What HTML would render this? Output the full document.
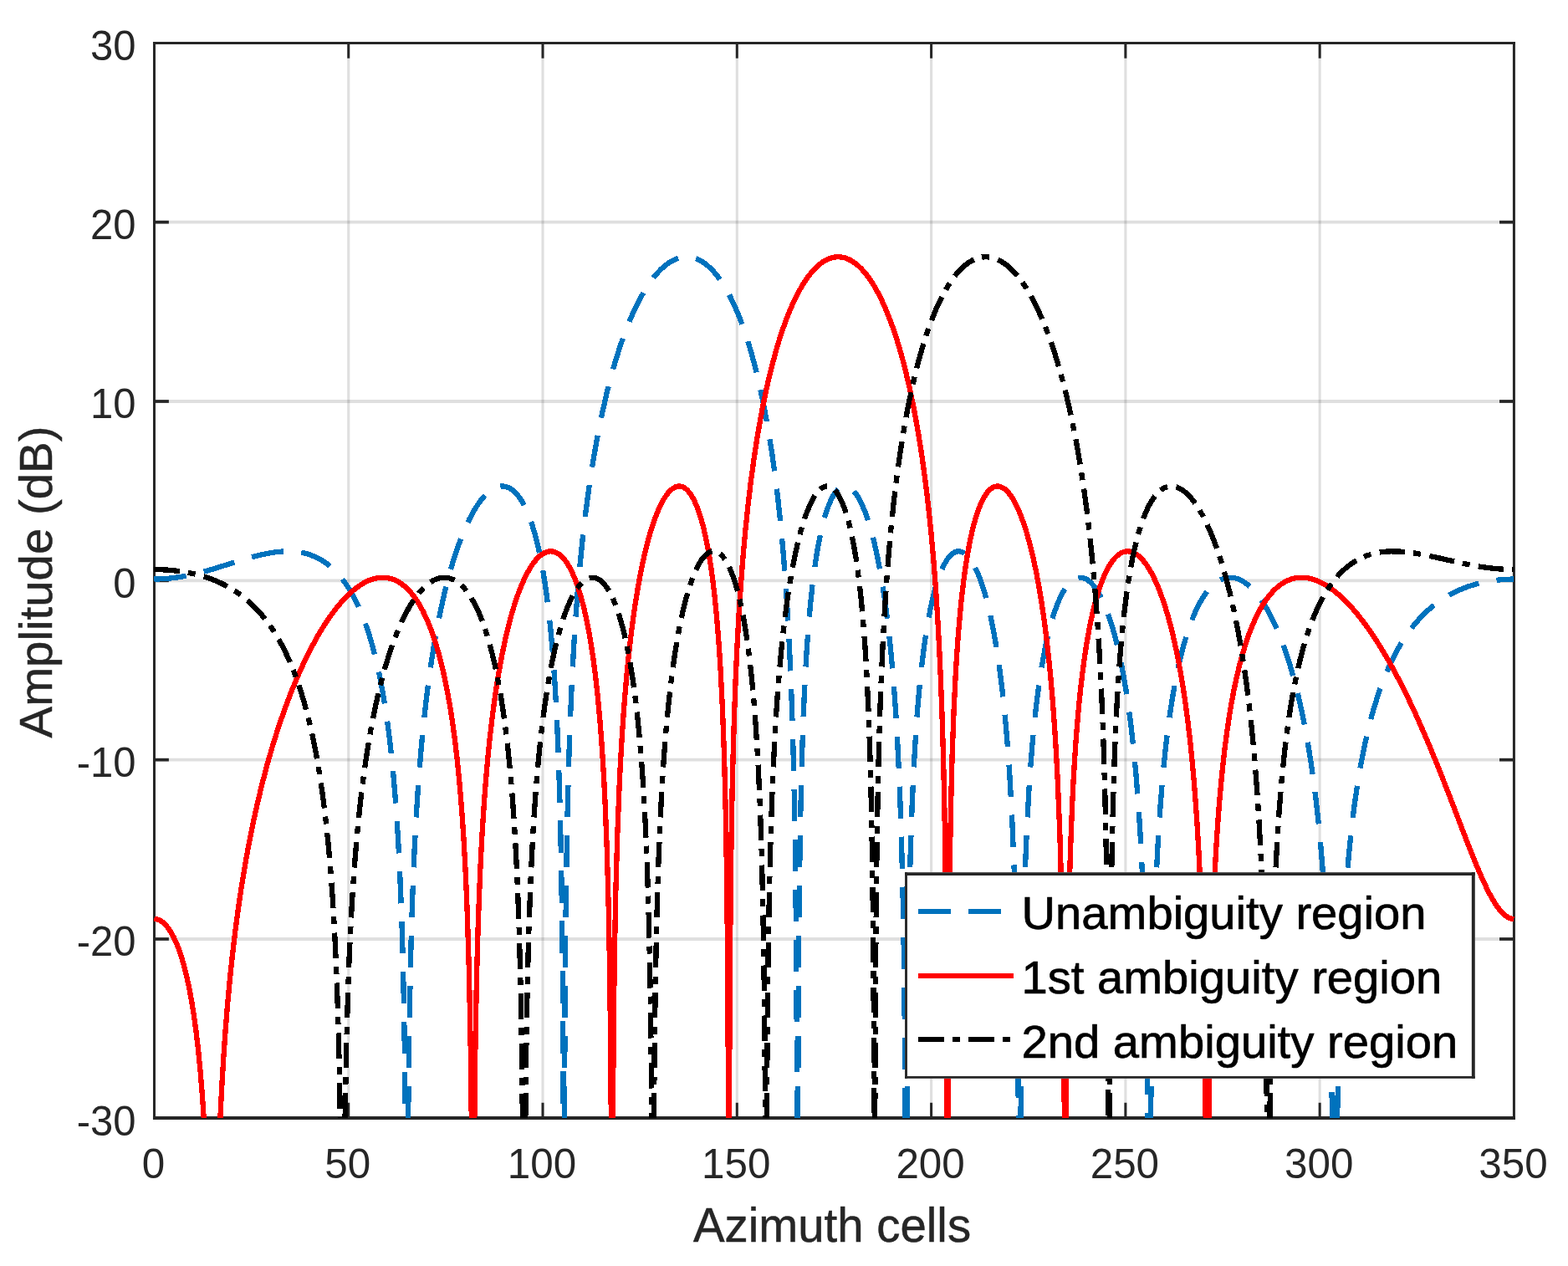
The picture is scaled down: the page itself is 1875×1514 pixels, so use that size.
<!DOCTYPE html>
<html><head><meta charset="utf-8"><title>Amplitude vs Azimuth cells</title><style>html,body{margin:0;padding:0;background:#fff;overflow:hidden}svg{display:block}</style></head><body>
<svg width="1875" height="1514" viewBox="0 0 1875 1514">
<rect x="0" y="0" width="1875" height="1514" fill="#fff"/>
<g stroke="#262626" stroke-opacity="0.15" stroke-width="3.1"><line x1="416.74" y1="51.34" x2="416.74" y2="1337.32"/><line x1="649.02" y1="51.34" x2="649.02" y2="1337.32"/><line x1="881.30" y1="51.34" x2="881.30" y2="1337.32"/><line x1="1113.59" y1="51.34" x2="1113.59" y2="1337.32"/><line x1="1345.88" y1="51.34" x2="1345.88" y2="1337.32"/><line x1="1578.16" y1="51.34" x2="1578.16" y2="1337.32"/></g>
<g stroke="#262626" stroke-opacity="0.15" stroke-width="3.9"><line x1="184.45" y1="1122.99" x2="1810.44" y2="1122.99"/><line x1="184.45" y1="908.66" x2="1810.44" y2="908.66"/><line x1="184.45" y1="694.33" x2="1810.44" y2="694.33"/><line x1="184.45" y1="480.00" x2="1810.44" y2="480.00"/><line x1="184.45" y1="265.67" x2="1810.44" y2="265.67"/></g>
<g stroke="#262626" stroke-width="3.0"><line x1="416.74" y1="1336.95" x2="416.74" y2="1318.75"/><line x1="416.74" y1="51.50" x2="416.74" y2="69.70"/><line x1="649.02" y1="1336.95" x2="649.02" y2="1318.75"/><line x1="649.02" y1="51.50" x2="649.02" y2="69.70"/><line x1="881.30" y1="1336.95" x2="881.30" y2="1318.75"/><line x1="881.30" y1="51.50" x2="881.30" y2="69.70"/><line x1="1113.59" y1="1336.95" x2="1113.59" y2="1318.75"/><line x1="1113.59" y1="51.50" x2="1113.59" y2="69.70"/><line x1="1345.88" y1="1336.95" x2="1345.88" y2="1318.75"/><line x1="1345.88" y1="51.50" x2="1345.88" y2="69.70"/><line x1="1578.16" y1="1336.95" x2="1578.16" y2="1318.75"/><line x1="1578.16" y1="51.50" x2="1578.16" y2="69.70"/></g>
<g stroke="#262626" stroke-width="3.7"><line x1="184.48" y1="1122.99" x2="201.88" y2="1122.99"/><line x1="1810.43" y1="1122.99" x2="1793.03" y2="1122.99"/><line x1="184.48" y1="908.66" x2="201.88" y2="908.66"/><line x1="1810.43" y1="908.66" x2="1793.03" y2="908.66"/><line x1="184.48" y1="694.33" x2="201.88" y2="694.33"/><line x1="1810.43" y1="694.33" x2="1793.03" y2="694.33"/><line x1="184.48" y1="480.00" x2="201.88" y2="480.00"/><line x1="1810.43" y1="480.00" x2="1793.03" y2="480.00"/><line x1="184.48" y1="265.67" x2="201.88" y2="265.67"/><line x1="1810.43" y1="265.67" x2="1793.03" y2="265.67"/></g>
<g stroke="#262626"><line x1="182.98" y1="51.50" x2="1811.93" y2="51.50" stroke-width="2.9"/><line x1="182.98" y1="1336.95" x2="1811.93" y2="1336.95" stroke-width="4.0"/><line x1="184.48" y1="50.05" x2="184.48" y2="1338.95" stroke-width="3.0"/><line x1="1810.43" y1="50.05" x2="1810.43" y2="1338.95" stroke-width="3.0"/></g>
<g font-family="Liberation Sans, Arial, Helvetica, sans-serif" font-size="49.4" fill="#262626"><text transform="translate(183.45,1409.00) scale(1,1.023)" text-anchor="middle">0</text><text transform="translate(415.74,1409.00) scale(1,1.023)" text-anchor="middle">50</text><text transform="translate(648.02,1409.00) scale(1,1.023)" text-anchor="middle">100</text><text transform="translate(880.30,1409.00) scale(1,1.023)" text-anchor="middle">150</text><text transform="translate(1112.59,1409.00) scale(1,1.023)" text-anchor="middle">200</text><text transform="translate(1344.88,1409.00) scale(1,1.023)" text-anchor="middle">250</text><text transform="translate(1577.16,1409.00) scale(1,1.023)" text-anchor="middle">300</text><text transform="translate(1809.44,1409.00) scale(1,1.023)" text-anchor="middle">350</text></g>
<g font-family="Liberation Sans, Arial, Helvetica, sans-serif" font-size="49.0" fill="#262626"><text transform="translate(162.60,1357.62) scale(1,1.037)" text-anchor="end">-30</text><text transform="translate(162.60,1143.29) scale(1,1.037)" text-anchor="end">-20</text><text transform="translate(162.60,928.96) scale(1,1.037)" text-anchor="end">-10</text><text transform="translate(162.60,714.63) scale(1,1.037)" text-anchor="end">0</text><text transform="translate(162.60,500.30) scale(1,1.037)" text-anchor="end">10</text><text transform="translate(162.60,285.97) scale(1,1.037)" text-anchor="end">20</text><text transform="translate(162.60,71.64) scale(1,1.037)" text-anchor="end">30</text></g>
<text transform="translate(995.00,1485.00) scale(1,1.029)" text-anchor="middle" font-family="Liberation Sans, Arial, Helvetica, sans-serif" font-size="56.4" fill="#262626" stroke="#262626" stroke-width="0.5">Azimuth cells</text>
<text transform="translate(62.00,696.00) rotate(-90) scale(1,1.0)" text-anchor="middle" font-family="Liberation Sans, Arial, Helvetica, sans-serif" font-size="56.4" fill="#262626" stroke="#262626" stroke-width="0.5">Amplitude (dB)</text>
<g fill="none" stroke-width="6.3" stroke-linejoin="round" shape-rendering="crispEdges"><path d="M184.45,692.57 L195.51,692.23 L206.70,691.22 L218.18,689.52 L230.21,687.09 L240.62,684.53 L252.00,681.35 L287.35,670.32 L299.11,666.84 L310.12,663.95 L319.97,661.81 L329.77,660.26 L338.92,659.44 L347.51,659.36 L355.69,660.01 L361.40,660.95 L366.89,662.28 L372.18,663.99 L377.34,666.11 L382.31,668.61 L387.14,671.53 L391.83,674.86 L396.39,678.60 L400.80,682.76 L405.07,687.34 L409.21,692.34 L413.20,697.75 L417.06,703.57 L420.82,709.87 L424.45,716.60 L427.93,723.73 L431.65,732.14 L435.18,741.01 L438.57,750.42 L441.82,760.40 L444.89,770.77 L447.86,781.86 L450.70,793.51 L453.39,805.72 L455.94,818.50 L458.36,831.82 L460.64,845.67 L462.82,860.36 L464.86,875.58 L466.82,891.69 L470.30,925.40 L473.32,961.69 L475.92,1000.90 L478.15,1043.57 L480.06,1090.68 L481.64,1142.22 L482.94,1199.64 L483.96,1262.40 L484.80,1337.32" stroke="#0072BD" stroke-dasharray="38.5 21.5"/><path d="M488.14,1337.32 L489.35,1235.10 L490.97,1150.63 L492.00,1111.94 L493.20,1074.45 L494.55,1039.78 L496.04,1007.57 L497.71,976.76 L499.61,946.72 L501.66,918.91 L503.93,891.96 L506.44,865.99 L509.14,841.47 L512.06,817.92 L515.27,795.03 L518.99,771.54 L522.98,749.21 L527.26,728.03 L531.81,708.01 L536.64,689.16 L541.70,671.66 L547.00,655.48 L552.53,640.64 L558.29,627.18 L561.22,621.07 L564.19,615.34 L567.21,610.00 L570.23,605.13 L573.25,600.72 L576.31,596.70 L579.33,593.20 L582.40,590.10 L585.47,587.47 L588.49,585.34 L591.51,583.66 L594.53,582.46 L597.50,581.74 L600.43,581.50 L602.93,581.67 L605.40,582.20 L607.81,583.07 L610.23,584.30 L612.60,585.88 L614.92,587.81 L617.20,590.07 L619.47,592.72 L621.66,595.66 L623.79,598.93 L625.93,602.62 L627.97,606.56 L631.97,615.56 L635.73,625.79 L639.31,637.39 L642.66,650.19 L645.81,664.35 L648.74,679.65 L651.48,696.31 L654.04,714.37 L656.36,733.43 L658.54,754.27 L660.45,775.40 L662.17,797.53 L663.75,821.17 L665.19,846.38 L666.49,873.14 L667.65,901.38 L669.65,964.76 L671.18,1036.41 L672.34,1120.23 L673.18,1220.11 L673.72,1337.32" stroke="#0072BD" stroke-dasharray="38.5 21.5"/><path d="M674.95,1337.32 L675.78,1177.00 L676.38,1111.06 L677.08,1055.60 L678.01,1000.14 L679.08,951.31 L680.38,904.65 L681.87,861.99 L683.63,820.80 L685.67,781.57 L687.95,745.11 L690.55,709.92 L693.43,676.68 L696.64,644.82 L700.17,614.37 L704.03,585.31 L708.72,554.44 L713.87,524.91 L719.45,497.01 L725.44,470.72 L728.60,458.16 L731.85,446.05 L735.20,434.38 L738.68,423.02 L742.21,412.25 L745.84,401.94 L749.55,392.07 L753.36,382.67 L757.26,373.73 L761.21,365.36 L765.21,357.55 L769.30,350.21 L773.43,343.44 L777.61,337.23 L781.84,331.58 L786.11,326.50 L790.44,321.98 L794.76,318.08 L799.08,314.78 L803.44,312.06 L807.81,309.94 L812.18,308.43 L816.54,307.52 L820.91,307.21 L825.09,307.49 L829.27,308.34 L833.41,309.74 L837.54,311.71 L841.63,314.22 L845.67,317.29 L849.67,320.89 L853.66,325.08 L857.61,329.82 L861.47,335.05 L865.28,340.82 L869.04,347.13 L872.71,353.91 L876.33,361.23 L879.91,369.11 L883.40,377.44 L886.79,386.22 L890.13,395.56 L893.38,405.36 L896.54,415.59 L899.61,426.25 L902.58,437.34 L908.30,461.01 L913.64,486.41 L918.56,513.28 L923.12,541.85 L927.30,572.13 L930.78,601.21 L933.94,631.54 L936.82,663.56 L939.38,696.69 L941.70,732.14 L943.74,769.25 L945.51,807.75 L947.09,849.72 L948.44,894.08 L949.55,940.19 L950.53,991.95 L951.32,1047.12 L952.48,1176.41 L953.16,1337.32" stroke="#0072BD" stroke-dasharray="38.5 21.5"/><path d="M954.16,1337.32 L954.61,1217.32 L955.26,1121.89 L956.15,1041.75 L957.36,969.91 L958.89,907.62 L960.84,851.56 L963.16,803.04 L964.51,780.54 L965.95,759.72 L967.62,738.80 L969.48,718.79 L971.43,700.64 L973.57,683.48 L975.84,667.70 L978.26,653.27 L980.86,639.95 L983.60,627.99 L986.53,617.22 L989.60,607.83 L992.80,599.83 L996.10,593.31 L997.82,590.53 L999.54,588.16 L1001.30,586.12 L1003.07,584.47 L1004.88,583.16 L1006.69,582.24 L1008.50,581.69 L1010.36,581.50 L1012.41,581.72 L1014.45,582.38 L1016.49,583.48 L1018.54,585.02 L1020.58,586.99 L1022.63,589.40 L1024.67,592.25 L1026.72,595.54 L1028.71,599.20 L1030.71,603.30 L1034.66,612.77 L1038.47,623.71 L1042.19,636.28 L1045.72,650.13 L1049.06,665.21 L1052.27,681.71 L1055.33,699.68 L1058.17,718.56 L1060.86,738.94 L1063.37,760.51 L1065.69,783.25 L1067.69,805.49 L1069.55,828.96 L1071.27,853.72 L1072.85,879.81 L1075.54,934.90 L1077.77,996.97 L1079.49,1064.20 L1080.84,1141.19 L1081.86,1232.11 L1082.56,1337.32" stroke="#0072BD" stroke-dasharray="38.5 21.5"/><path d="M1084.43,1337.32 L1085.07,1241.53 L1085.99,1155.61 L1087.20,1083.04 L1088.69,1021.36 L1090.59,964.70 L1092.92,913.98 L1095.70,868.34 L1097.28,847.29 L1098.96,827.75 L1100.86,808.26 L1102.95,789.58 L1105.18,772.19 L1107.55,756.05 L1110.06,741.15 L1112.75,727.24 L1115.54,714.78 L1118.51,703.35 L1121.63,693.17 L1124.83,684.37 L1128.18,676.81 L1131.66,670.53 L1133.43,667.92 L1135.24,665.62 L1137.05,663.70 L1138.86,662.13 L1140.72,660.89 L1142.58,660.01 L1144.44,659.49 L1146.34,659.31 L1148.29,659.50 L1150.29,660.08 L1152.29,661.06 L1154.29,662.42 L1156.28,664.18 L1158.24,666.28 L1160.23,668.83 L1162.18,671.70 L1166.04,678.57 L1169.85,686.96 L1173.52,696.67 L1177.10,707.81 L1180.53,720.24 L1183.79,733.75 L1186.90,748.51 L1189.87,764.53 L1192.71,781.86 L1195.35,800.22 L1197.82,819.55 L1200.14,840.22 L1202.18,860.83 L1204.04,882.00 L1205.76,904.17 L1207.39,928.02 L1210.22,978.98 L1212.54,1034.75 L1214.40,1095.76 L1215.89,1164.79 L1217.05,1244.96 L1217.90,1337.32" stroke="#0072BD" stroke-dasharray="38.5 21.5"/><path d="M1220.54,1337.32 L1221.37,1247.22 L1222.49,1169.99 L1223.97,1100.83 L1225.83,1040.28 L1228.11,986.39 L1230.89,937.26 L1232.47,914.67 L1234.19,893.17 L1236.05,872.78 L1238.00,853.92 L1240.23,834.95 L1242.65,816.93 L1245.20,800.21 L1247.94,784.47 L1250.82,770.00 L1253.89,756.56 L1257.10,744.37 L1260.44,733.39 L1263.97,723.51 L1267.64,714.87 L1271.40,707.57 L1275.31,701.52 L1277.30,698.98 L1279.30,696.79 L1281.35,694.91 L1283.39,693.39 L1285.43,692.21 L1287.53,691.35 L1289.62,690.84 L1291.75,690.66 L1293.94,690.84 L1296.17,691.40 L1298.40,692.34 L1300.58,693.62 L1302.81,695.31 L1304.99,697.32 L1307.18,699.71 L1309.36,702.47 L1311.54,705.62 L1313.68,709.08 L1317.91,717.07 L1322.00,726.34 L1325.99,736.99 L1329.80,748.77 L1333.47,761.78 L1337.00,776.07 L1340.35,791.44 L1343.51,807.87 L1346.48,825.35 L1349.27,843.86 L1351.91,863.75 L1354.24,883.46 L1356.37,903.91 L1358.37,925.50 L1360.18,947.69 L1361.86,970.95 L1363.44,996.06 L1364.88,1022.43 L1366.18,1050.01 L1368.41,1109.67 L1370.17,1175.85 L1371.57,1252.32 L1372.57,1337.32" stroke="#0072BD" stroke-dasharray="38.5 21.5"/><path d="M1376.06,1337.32 L1377.19,1245.10 L1378.67,1167.79 L1380.62,1099.43 L1381.79,1068.32 L1383.09,1038.85 L1384.53,1011.05 L1386.15,984.15 L1387.92,958.99 L1389.87,934.89 L1391.96,912.41 L1394.24,891.00 L1396.70,870.69 L1399.35,851.48 L1402.32,832.54 L1405.53,814.65 L1408.92,798.06 L1412.54,782.54 L1416.35,768.27 L1420.39,755.09 L1424.62,743.14 L1429.08,732.30 L1433.73,722.69 L1438.60,714.24 L1441.11,710.48 L1443.62,707.10 L1446.22,703.97 L1448.82,701.21 L1451.47,698.75 L1454.17,696.61 L1456.91,694.79 L1459.65,693.31 L1462.44,692.16 L1465.27,691.32 L1468.10,690.83 L1470.98,690.66 L1474.10,690.85 L1477.26,691.44 L1480.41,692.42 L1483.62,693.80 L1486.83,695.57 L1490.03,697.73 L1493.24,700.29 L1496.40,703.18 L1499.55,706.46 L1502.71,710.13 L1505.87,714.20 L1508.99,718.59 L1512.05,723.32 L1515.12,728.45 L1521.11,739.68 L1526.87,752.10 L1532.45,765.78 L1537.84,780.76 L1542.95,796.77 L1547.82,813.95 L1552.42,832.13 L1556.74,851.29 L1560.83,871.67 L1564.41,891.68 L1567.71,912.34 L1570.77,933.88 L1573.65,956.69 L1576.30,980.41 L1578.72,1005.01 L1580.95,1030.94 L1582.99,1058.28 L1584.80,1086.30 L1586.48,1116.44 L1587.96,1147.93 L1589.26,1180.56 L1590.47,1216.90 L1591.49,1254.25 L1593.15,1337.32" stroke="#0072BD" stroke-dasharray="38.5 21.5"/><path d="M1599.14,1337.32 L1600.09,1286.52 L1601.25,1239.01 L1602.64,1194.67 L1604.22,1154.81 L1606.08,1117.03 L1608.17,1082.33 L1610.54,1049.85 L1613.19,1019.55 L1616.16,990.94 L1619.51,963.71 L1623.18,938.30 L1627.17,914.63 L1631.59,892.16 L1636.37,871.17 L1641.57,851.47 L1647.15,833.20 L1650.17,824.32 L1653.33,815.69 L1656.58,807.45 L1659.92,799.57 L1663.41,791.94 L1667.03,784.59 L1670.75,777.60 L1674.60,770.88 L1678.60,764.43 L1682.69,758.33 L1686.92,752.50 L1691.28,746.96 L1695.79,741.68 L1700.39,736.74 L1705.17,732.02 L1710.10,727.59 L1715.21,723.39 L1720.46,719.47 L1725.85,715.84 L1731.42,712.45 L1737.14,709.33 L1743.04,706.47 L1749.08,703.89 L1755.30,701.55 L1761.71,699.48 L1768.31,697.66 L1775.04,696.12 L1781.92,694.85 L1788.94,693.85 L1796.04,693.14 L1803.24,692.71 L1810.44,692.57" stroke="#0072BD" stroke-dasharray="38.5 21.5"/><path d="M184.45,1098.98 L187.05,1099.24 L189.65,1100.02 L192.25,1101.32 L194.81,1103.12 L197.32,1105.41 L199.83,1108.23 L202.29,1111.54 L204.71,1115.34 L207.07,1119.62 L209.35,1124.29 L211.58,1129.44 L213.76,1135.07 L217.95,1147.66 L221.89,1162.12 L225.47,1177.83 L228.82,1195.31 L231.93,1214.63 L234.76,1235.49 L237.36,1258.22 L239.69,1282.33 L241.82,1308.79 L243.74,1337.32" stroke="#FF0000"/><path d="M263.32,1337.32 L265.15,1301.08 L267.19,1266.68 L269.47,1233.87 L272.02,1202.04 L274.81,1171.77 L277.88,1142.50 L281.22,1114.22 L284.89,1086.59 L288.89,1059.67 L293.16,1033.76 L297.76,1008.55 L302.73,983.82 L307.98,960.03 L313.60,936.77 L319.55,914.25 L325.82,892.47 L332.79,870.29 L340.08,849.08 L347.70,828.81 L355.60,809.63 L363.77,791.55 L372.14,774.76 L380.68,759.27 L385.00,752.06 L389.33,745.24 L393.69,738.76 L398.06,732.68 L402.43,726.99 L406.79,721.70 L411.16,716.80 L415.53,712.30 L419.89,708.20 L424.21,704.55 L428.54,701.30 L432.81,698.48 L437.04,696.11 L441.26,694.14 L445.40,692.63 L449.53,691.53 L453.62,690.88 L457.62,690.66 L460.96,690.81 L464.26,691.28 L467.51,692.05 L470.76,693.15 L473.97,694.56 L477.08,696.27 L480.15,698.28 L483.17,700.60 L486.14,703.23 L489.07,706.18 L491.95,709.45 L494.74,712.97 L497.52,716.87 L500.22,721.03 L505.42,730.22 L510.39,740.61 L515.08,752.08 L519.59,764.87 L523.82,778.73 L527.81,793.80 L531.58,810.09 L535.11,827.62 L538.36,846.13 L541.29,865.18 L543.98,885.22 L546.49,906.58 L548.77,928.82 L550.86,952.33 L552.81,977.74 L554.57,1004.53 L556.15,1032.62 L557.59,1062.85 L558.85,1094.15 L560.94,1162.68 L562.56,1242.70 L563.76,1337.32" stroke="#FF0000"/><path d="M567.35,1337.32 L568.46,1246.50 L569.95,1169.09 L571.90,1100.10 L574.32,1039.44 L575.76,1010.80 L577.34,983.71 L579.10,957.45 L581.01,932.73 L583.10,908.93 L585.33,886.55 L587.74,865.08 L590.34,844.55 L593.32,823.74 L596.52,803.90 L599.91,785.30 L603.54,767.69 L607.35,751.32 L611.34,736.14 L615.52,722.18 L619.89,709.43 L624.44,697.93 L629.09,687.92 L633.88,679.28 L636.29,675.54 L638.75,672.13 L641.22,669.13 L643.68,666.54 L646.14,664.34 L648.60,662.54 L651.06,661.13 L653.53,660.12 L655.99,659.51 L658.45,659.31 L660.68,659.48 L662.91,659.99 L665.14,660.86 L667.32,662.06 L669.51,663.62 L671.64,665.50 L673.74,667.70 L675.83,670.26 L677.87,673.13 L679.87,676.31 L683.82,683.75 L687.63,692.51 L691.25,702.47 L694.69,713.61 L697.94,725.88 L701.05,739.49 L703.98,754.23 L706.72,770.10 L709.32,787.38 L711.74,805.79 L713.97,825.30 L715.96,845.34 L717.78,866.13 L719.45,888.14 L720.98,911.35 L722.38,935.72 L723.68,962.14 L725.86,1018.29 L727.63,1081.97 L729.02,1155.46 L730.04,1238.03 L730.79,1337.32" stroke="#FF0000"/><path d="M732.91,1337.32 L733.71,1231.34 L734.83,1143.21 L736.31,1066.97 L738.26,998.50 L740.73,937.00 L742.12,909.35 L743.70,882.21 L745.42,856.52 L747.32,831.64 L749.37,808.19 L751.55,786.07 L754.11,763.24 L756.89,741.34 L759.82,721.07 L762.98,701.76 L766.32,683.73 L769.85,666.98 L773.57,651.51 L777.47,637.35 L781.52,624.68 L785.70,613.50 L790.02,603.83 L792.20,599.64 L794.38,595.90 L796.57,592.59 L798.80,589.66 L801.03,587.18 L803.26,585.14 L805.49,583.55 L807.72,582.41 L809.95,581.72 L812.13,581.50 L814.08,581.68 L816.03,582.23 L817.94,583.13 L819.84,584.40 L821.70,586.02 L823.56,588.03 L825.37,590.36 L827.18,593.10 L830.67,599.58 L834.01,607.43 L837.22,616.68 L840.24,627.16 L843.12,639.02 L845.81,652.06 L848.37,666.51 L850.74,682.09 L852.97,699.10 L855.01,717.18 L856.92,736.69 L858.68,757.70 L860.21,778.85 L861.61,801.10 L864.07,850.44 L866.07,905.59 L867.69,969.24 L868.95,1041.57 L869.88,1124.04 L870.53,1217.57 L871.00,1337.32" stroke="#FF0000"/><path d="M872.02,1337.32 L872.71,1177.81 L873.87,1050.19 L874.66,995.43 L875.64,943.95 L876.75,898.02 L878.05,855.14 L879.63,812.97 L881.40,774.30 L883.44,737.02 L885.72,702.06 L888.27,668.65 L891.11,636.83 L894.22,606.58 L897.66,577.47 L901.79,547.02 L906.35,517.91 L911.22,490.74 L916.52,464.97 L922.19,440.89 L928.18,418.66 L931.34,408.11 L934.54,398.13 L937.84,388.59 L941.19,379.61 L944.63,371.06 L948.16,362.96 L951.73,355.41 L955.36,348.41 L959.03,341.96 L962.79,335.97 L966.60,330.53 L970.46,325.65 L974.36,321.32 L978.26,317.60 L982.21,314.42 L986.16,311.83 L990.15,309.81 L994.15,308.36 L998.14,307.50 L1002.14,307.21 L1006.18,307.51 L1010.18,308.37 L1014.17,309.82 L1018.17,311.86 L1022.16,314.48 L1026.11,317.66 L1030.01,321.40 L1033.92,325.73 L1037.77,330.62 L1041.58,336.06 L1045.34,342.05 L1049.01,348.50 L1052.68,355.59 L1056.26,363.14 L1059.79,371.24 L1063.23,379.78 L1066.58,388.76 L1069.87,398.29 L1073.08,408.25 L1076.24,418.79 L1079.30,429.76 L1082.28,441.15 L1087.95,465.20 L1093.24,490.91 L1098.17,518.28 L1102.72,547.33 L1106.85,577.71 L1110.29,606.74 L1113.45,637.37 L1116.28,669.13 L1118.84,702.47 L1121.12,737.34 L1123.16,774.50 L1124.93,813.03 L1126.51,854.99 L1127.81,897.62 L1128.92,943.21 L1129.90,994.19 L1130.69,1048.25 L1131.85,1173.21 L1132.57,1337.32" stroke="#FF0000"/><path d="M1133.60,1337.32 L1134.08,1216.46 L1134.73,1123.73 L1135.70,1038.44 L1136.96,967.44 L1138.58,904.61 L1140.58,849.97 L1143.04,800.98 L1144.44,778.85 L1145.97,757.80 L1147.74,736.89 L1149.64,717.45 L1151.73,699.05 L1153.96,682.13 L1156.38,666.35 L1158.93,652.00 L1161.63,639.04 L1164.51,627.24 L1167.57,616.66 L1170.78,607.47 L1174.17,599.56 L1177.65,593.13 L1179.47,590.40 L1181.28,588.07 L1183.14,586.07 L1185.04,584.42 L1186.95,583.15 L1188.90,582.23 L1190.85,581.68 L1192.80,581.50 L1195.03,581.72 L1197.26,582.41 L1199.49,583.53 L1201.72,585.10 L1204.00,587.16 L1206.23,589.61 L1208.46,592.51 L1210.69,595.85 L1212.92,599.63 L1215.10,603.79 L1219.47,613.46 L1223.69,624.67 L1227.78,637.37 L1231.68,651.39 L1235.45,666.88 L1239.02,683.68 L1242.42,701.78 L1245.62,721.18 L1248.59,741.57 L1251.38,763.26 L1253.98,786.27 L1256.21,808.66 L1258.26,831.90 L1260.16,856.53 L1261.88,881.91 L1263.51,909.52 L1264.95,937.84 L1267.41,998.82 L1269.36,1066.46 L1270.89,1144.25 L1272.01,1231.66 L1272.82,1337.32" stroke="#FF0000"/><path d="M1274.96,1337.32 L1275.72,1237.53 L1276.75,1155.95 L1278.14,1083.04 L1279.95,1018.31 L1282.18,961.75 L1283.48,935.69 L1284.92,910.87 L1286.50,887.36 L1288.18,865.71 L1290.03,844.73 L1292.03,825.02 L1294.31,805.42 L1296.72,787.28 L1299.37,769.95 L1302.16,754.07 L1305.13,739.32 L1308.29,725.74 L1311.59,713.49 L1315.07,702.38 L1318.74,692.45 L1322.60,683.73 L1326.60,676.33 L1328.64,673.13 L1330.73,670.24 L1332.87,667.66 L1335.00,665.46 L1337.19,663.58 L1339.37,662.05 L1341.60,660.85 L1343.83,660.00 L1346.11,659.48 L1348.38,659.31 L1350.89,659.51 L1353.40,660.12 L1355.91,661.13 L1358.42,662.53 L1360.97,664.37 L1363.48,666.57 L1365.99,669.17 L1368.50,672.17 L1371.01,675.57 L1373.47,679.31 L1375.93,683.46 L1378.35,687.94 L1383.13,698.04 L1387.78,709.53 L1392.24,722.27 L1396.51,736.23 L1400.65,751.58 L1404.55,767.98 L1408.27,785.63 L1411.75,804.30 L1415.00,823.95 L1418.07,844.88 L1420.72,865.25 L1423.23,886.98 L1425.50,909.24 L1427.64,932.93 L1429.59,957.57 L1431.40,983.77 L1433.03,1010.87 L1434.51,1039.59 L1435.82,1068.89 L1437.02,1100.88 L1439.02,1169.66 L1440.55,1247.40 L1441.69,1337.32" stroke="#FF0000"/><path d="M1445.39,1337.32 L1446.45,1253.30 L1447.89,1179.26 L1449.75,1113.99 L1452.03,1056.98 L1453.38,1030.24 L1454.86,1004.82 L1456.49,980.72 L1458.25,957.92 L1460.16,936.38 L1462.25,915.60 L1464.48,896.07 L1466.90,877.36 L1469.54,859.23 L1472.42,841.79 L1475.49,825.39 L1478.74,809.98 L1482.18,795.57 L1485.80,782.12 L1489.66,769.49 L1493.70,757.83 L1497.93,747.12 L1502.39,737.26 L1507.03,728.36 L1511.91,720.33 L1516.93,713.33 L1522.18,707.22 L1524.87,704.52 L1527.61,702.06 L1530.40,699.84 L1533.24,697.85 L1536.02,696.16 L1538.86,694.69 L1541.74,693.45 L1544.62,692.45 L1547.54,691.66 L1550.52,691.10 L1553.54,690.77 L1556.60,690.66 L1559.72,690.78 L1562.83,691.12 L1565.99,691.69 L1569.15,692.48 L1572.40,693.51 L1575.65,694.76 L1582.25,697.92 L1588.98,702.00 L1595.81,706.96 L1602.74,712.81 L1609.75,719.53 L1616.86,727.15 L1624.01,735.60 L1631.21,744.88 L1638.51,755.05 L1645.38,765.34 L1652.26,776.29 L1659.18,787.99 L1666.15,800.43 L1673.12,813.53 L1680.13,827.38 L1687.15,841.88 L1694.26,857.23 L1706.61,885.42 L1719.58,916.86 L1731.51,947.22 L1754.70,1007.67 L1763.52,1029.89 L1771.61,1048.96 L1778.71,1064.12 L1783.13,1072.53 L1787.36,1079.70 L1791.40,1085.64 L1795.35,1090.49 L1799.20,1094.22 L1801.11,1095.69 L1802.97,1096.86 L1804.87,1097.80 L1806.73,1098.46 L1808.59,1098.85 L1810.44,1098.98" stroke="#FF0000"/><path d="M184.45,681.09 L192.39,681.23 L200.29,681.64 L208.10,682.33 L215.72,683.27 L223.20,684.48 L230.44,685.95 L237.50,687.67 L244.33,689.64 L250.93,691.86 L257.29,694.31 L263.52,697.04 L269.51,700.01 L275.32,703.24 L280.99,706.75 L286.47,710.53 L291.77,714.56 L296.92,718.88 L301.89,723.46 L306.72,728.33 L311.42,733.49 L315.92,738.90 L320.34,744.65 L324.61,750.71 L328.75,757.06 L332.74,763.71 L336.60,770.64 L340.36,777.96 L343.98,785.57 L347.47,793.47 L350.86,801.76 L354.11,810.33 L357.22,819.17 L360.20,828.27 L363.08,837.77 L368.47,857.61 L373.44,878.87 L378.04,901.77 L382.22,926.10 L386.03,952.10 L389.46,979.78 L392.58,1009.54 L395.32,1040.88 L397.73,1074.14 L399.87,1109.91 L401.73,1148.18 L403.31,1188.64 L404.70,1233.81 L405.86,1282.45 L406.85,1337.32" stroke="#000000" stroke-dasharray="30.5 10 9 10.5"/><path d="M412.56,1337.32 L414.18,1253.01 L416.27,1180.93 L417.52,1148.02 L418.96,1116.18 L420.59,1085.68 L422.36,1057.32 L424.31,1030.24 L426.44,1004.45 L428.81,979.45 L431.37,955.77 L434.16,932.97 L437.13,911.40 L440.34,890.70 L443.77,870.88 L447.72,850.60 L451.90,831.51 L456.36,813.38 L461.05,796.40 L466.03,780.41 L471.23,765.57 L476.66,751.88 L482.29,739.47 L488.09,728.34 L491.07,723.25 L494.09,718.49 L497.15,714.07 L500.22,710.05 L503.28,706.41 L506.40,703.12 L509.51,700.21 L512.62,697.69 L515.73,695.55 L518.85,693.80 L521.96,692.43 L525.07,691.45 L528.19,690.86 L531.25,690.66 L534.09,690.83 L536.87,691.32 L539.66,692.16 L542.40,693.32 L545.10,694.80 L547.79,696.62 L550.44,698.76 L553.09,701.26 L555.64,704.03 L558.20,707.15 L560.71,710.60 L563.17,714.35 L567.95,722.78 L572.55,732.45 L576.97,743.36 L581.15,755.37 L585.14,768.62 L588.90,782.94 L592.48,798.51 L595.83,815.14 L598.99,833.05 L601.91,851.99 L604.51,871.14 L606.93,891.36 L609.16,912.61 L611.25,935.39 L613.16,959.23 L614.92,984.73 L616.50,1011.20 L617.94,1039.36 L619.19,1068.11 L620.36,1099.54 L622.31,1168.83 L623.79,1247.71 L624.87,1337.32" stroke="#000000" stroke-dasharray="30.5 10 9 10.5"/><path d="M628.32,1337.32 L629.37,1248.89 L630.72,1175.03 L632.43,1110.01 L634.62,1050.84 L637.31,997.02 L638.85,972.26 L640.56,948.01 L642.38,925.59 L644.37,903.80 L646.51,883.19 L648.79,863.71 L651.39,843.99 L654.18,825.31 L657.15,807.69 L660.26,791.37 L663.56,776.09 L667.05,761.87 L670.67,748.90 L674.48,737.02 L678.43,726.40 L682.52,717.06 L686.70,709.09 L688.83,705.61 L690.97,702.51 L693.15,699.72 L695.34,697.32 L697.52,695.29 L699.70,693.63 L701.89,692.34 L704.12,691.40 L706.30,690.84 L708.48,690.66 L710.58,690.83 L712.67,691.35 L714.76,692.21 L716.80,693.40 L718.84,694.93 L720.84,696.78 L722.84,698.98 L724.84,701.54 L726.79,704.40 L728.74,707.63 L732.50,714.99 L736.13,723.59 L739.66,733.55 L743.00,744.61 L746.16,756.72 L749.18,770.04 L752.06,784.60 L754.76,800.15 L757.31,816.96 L759.73,835.08 L761.96,854.16 L763.91,873.15 L765.77,893.69 L767.44,914.75 L769.02,937.46 L771.76,985.97 L774.04,1040.00 L775.89,1100.76 L777.33,1167.64 L778.45,1244.06 L779.31,1337.32" stroke="#000000" stroke-dasharray="30.5 10 9 10.5"/><path d="M781.95,1337.32 L782.77,1246.55 L783.93,1165.54 L785.42,1096.04 L787.28,1034.74 L789.60,978.77 L792.43,927.68 L794.06,903.78 L795.78,881.58 L797.64,860.38 L799.63,840.19 L801.96,819.44 L804.42,800.06 L807.07,781.66 L809.85,764.56 L812.83,748.48 L815.94,733.68 L819.19,720.13 L822.58,707.83 L826.16,696.66 L829.83,686.92 L833.59,678.61 L837.45,671.72 L839.40,668.83 L841.35,666.33 L843.30,664.22 L845.30,662.45 L847.30,661.07 L849.30,660.09 L851.29,659.50 L853.24,659.31 L855.10,659.48 L856.96,659.99 L858.82,660.87 L860.68,662.10 L862.49,663.66 L864.30,665.59 L866.11,667.89 L867.88,670.50 L871.36,676.79 L874.71,684.37 L877.91,693.18 L881.03,703.39 L884.00,714.85 L886.79,727.34 L889.43,741.04 L891.94,755.96 L894.31,772.11 L896.54,789.53 L898.63,808.24 L900.54,827.76 L902.21,847.33 L903.79,868.44 L906.58,914.19 L908.90,965.07 L910.81,1021.98 L912.34,1086.36 L913.50,1157.22 L914.38,1238.79 L915.04,1337.32" stroke="#000000" stroke-dasharray="30.5 10 9 10.5"/><path d="M916.90,1337.32 L917.63,1228.96 L918.61,1142.42 L919.96,1064.92 L921.72,995.87 L923.95,934.04 L926.65,879.11 L928.18,853.80 L929.90,829.00 L931.76,805.49 L933.75,783.24 L936.08,760.47 L938.59,738.88 L941.28,718.49 L944.11,699.61 L947.18,681.63 L950.39,665.12 L953.73,650.05 L957.26,636.19 L960.98,623.63 L964.79,612.69 L968.69,603.33 L970.69,599.23 L972.69,595.57 L974.73,592.27 L976.77,589.42 L978.82,587.01 L980.86,585.03 L982.91,583.49 L984.95,582.39 L986.99,581.72 L989.04,581.50 L990.90,581.69 L992.71,582.24 L994.52,583.16 L996.33,584.46 L998.10,586.11 L999.86,588.15 L1001.58,590.52 L1003.30,593.30 L1006.60,599.82 L1009.81,607.81 L1012.87,617.19 L1015.80,627.95 L1018.54,639.90 L1021.14,653.21 L1023.56,667.62 L1025.83,683.37 L1027.97,700.52 L1029.92,718.63 L1031.78,738.61 L1033.45,759.48 L1034.89,780.25 L1036.24,802.70 L1038.61,852.19 L1040.56,908.46 L1042.09,971.06 L1043.30,1043.41 L1044.18,1124.41 L1044.83,1221.50 L1045.27,1337.32" stroke="#000000" stroke-dasharray="30.5 10 9 10.5"/><path d="M1046.27,1337.32 L1046.97,1173.28 L1048.13,1045.60 L1048.92,990.84 L1049.90,939.38 L1051.01,893.48 L1052.36,849.27 L1053.94,807.42 L1055.75,768.09 L1057.80,731.20 L1060.12,695.93 L1062.67,662.95 L1065.55,631.04 L1068.71,600.81 L1072.20,571.82 L1076.38,541.61 L1080.98,512.84 L1085.90,486.06 L1091.24,460.74 L1096.96,437.15 L1099.93,426.09 L1103.00,415.45 L1106.16,405.25 L1109.41,395.48 L1112.75,386.16 L1116.15,377.40 L1119.63,369.09 L1123.21,361.23 L1126.83,353.92 L1130.55,347.08 L1134.31,340.78 L1138.17,334.97 L1142.02,329.76 L1145.97,325.04 L1149.97,320.86 L1153.96,317.27 L1158.05,314.19 L1162.14,311.68 L1166.27,309.73 L1170.41,308.33 L1174.59,307.49 L1178.77,307.21 L1183.14,307.51 L1187.50,308.41 L1191.92,309.93 L1196.28,312.04 L1200.65,314.75 L1205.02,318.06 L1209.38,321.99 L1213.70,326.49 L1217.98,331.55 L1222.25,337.24 L1226.48,343.49 L1230.62,350.24 L1234.70,357.54 L1238.75,365.40 L1242.74,373.83 L1246.64,382.74 L1250.45,392.10 L1254.22,402.04 L1257.84,412.31 L1261.42,423.16 L1264.90,434.47 L1268.25,446.07 L1271.54,458.29 L1274.70,470.78 L1280.74,497.13 L1286.32,524.87 L1291.52,554.47 L1296.26,585.45 L1300.16,614.69 L1303.69,644.97 L1306.90,676.61 L1309.82,710.16 L1312.43,745.12 L1314.75,782.09 L1316.79,821.11 L1318.56,862.03 L1320.04,904.33 L1321.35,950.51 L1322.41,998.69 L1323.34,1053.18 L1324.09,1111.57 L1324.69,1177.12 L1325.52,1337.32" stroke="#000000" stroke-dasharray="30.5 10 9 10.5"/><path d="M1326.76,1337.32 L1327.34,1215.92 L1328.17,1118.40 L1329.34,1035.79 L1330.87,964.82 L1332.87,901.85 L1334.07,872.72 L1335.38,846.22 L1336.82,821.23 L1338.44,797.12 L1340.16,775.23 L1342.07,754.28 L1344.25,733.61 L1346.66,713.98 L1349.22,696.12 L1352.01,679.36 L1354.98,664.01 L1358.14,650.02 L1361.53,637.20 L1365.11,625.73 L1368.92,615.48 L1372.96,606.49 L1375.00,602.59 L1377.14,598.94 L1379.32,595.64 L1381.55,592.67 L1383.83,590.05 L1386.11,587.81 L1388.48,585.87 L1390.85,584.31 L1393.26,583.09 L1395.72,582.20 L1398.23,581.67 L1400.74,581.50 L1403.71,581.73 L1406.73,582.45 L1409.80,583.66 L1412.87,585.34 L1415.93,587.48 L1419.04,590.12 L1422.11,593.17 L1425.22,596.73 L1428.34,600.76 L1431.40,605.18 L1434.47,610.06 L1437.53,615.41 L1440.55,621.15 L1443.53,627.27 L1449.38,640.75 L1455.00,655.61 L1460.39,671.82 L1465.55,689.37 L1470.47,708.27 L1475.12,728.36 L1479.49,749.64 L1483.57,772.11 L1487.34,795.49 L1490.59,818.28 L1493.56,841.75 L1496.30,866.20 L1498.86,892.11 L1501.18,919.03 L1503.32,947.53 L1505.22,976.97 L1506.94,1007.98 L1508.47,1040.52 L1509.82,1074.47 L1511.03,1110.99 L1512.10,1150.35 L1513.77,1235.11 L1515.01,1337.32" stroke="#000000" stroke-dasharray="30.5 10 9 10.5"/><path d="M1518.43,1337.32 L1519.25,1265.39 L1520.27,1203.10 L1521.58,1145.99 L1523.11,1095.97 L1524.97,1049.71 L1527.20,1006.69 L1529.75,967.86 L1532.68,932.25 L1536.12,898.49 L1539.97,867.71 L1542.11,853.03 L1544.34,839.16 L1546.71,825.80 L1549.22,812.95 L1551.87,800.64 L1554.61,789.07 L1557.49,778.00 L1560.51,767.46 L1563.67,757.44 L1566.96,747.94 L1570.40,738.96 L1574.03,730.39 L1577.46,723.02 L1581.04,716.05 L1584.76,709.48 L1588.57,703.39 L1592.52,697.70 L1596.60,692.42 L1600.83,687.53 L1605.20,683.05 L1609.70,678.98 L1614.35,675.30 L1619.14,672.03 L1624.11,669.12 L1629.26,666.59 L1634.56,664.45 L1640.04,662.69 L1645.71,661.30 L1649.98,660.52 L1654.40,659.93 L1658.95,659.54 L1663.64,659.34 L1673.49,659.51 L1684.17,660.46 L1693.93,661.86 L1704.89,663.89 L1716.14,666.29 L1748.89,673.72 L1759.34,675.83 L1768.87,677.52 L1779.74,679.10 L1790.19,680.21 L1800.36,680.87 L1810.44,681.09" stroke="#000000" stroke-dasharray="30.5 10 9 10.5"/></g>
<rect x="1082.05" y="1043.12" width="681.70" height="246.63" fill="#fff"/>
<g stroke="#262626"><line x1="1082.05" y1="1045.00" x2="1763.75" y2="1045.00" stroke-width="3.75"/><line x1="1082.05" y1="1288.40" x2="1763.75" y2="1288.40" stroke-width="2.7"/><line x1="1083.50" y1="1043.12" x2="1083.50" y2="1289.75" stroke-width="2.9"/><line x1="1761.80" y1="1043.12" x2="1761.80" y2="1289.75" stroke-width="3.9"/></g>
<line x1="1098" y1="1090.00" x2="1212" y2="1090.00" stroke="#0072BD" stroke-width="6.0" stroke-dasharray="39 21"/>
<text transform="translate(1221.5,1110.90) scale(1,1.0)" font-family="Liberation Sans, Arial, Helvetica, sans-serif" font-size="56.2" fill="#000" stroke="#000" stroke-width="0.7">Unambiguity region</text>
<line x1="1098" y1="1167.00" x2="1212" y2="1167.00" stroke="#FF0000" stroke-width="6.0"/>
<text transform="translate(1221.5,1187.90) scale(1,1.0)" font-family="Liberation Sans, Arial, Helvetica, sans-serif" font-size="56.2" fill="#000" stroke="#000" stroke-width="0.7">1st ambiguity region</text>
<line x1="1098" y1="1243.00" x2="1212" y2="1243.00" stroke="#000000" stroke-width="6.0" stroke-dasharray="31 10 9 10"/>
<text transform="translate(1221.5,1264.90) scale(1,1.0)" font-family="Liberation Sans, Arial, Helvetica, sans-serif" font-size="56.2" fill="#000" stroke="#000" stroke-width="0.7">2nd ambiguity region</text>
</svg>
</body></html>
